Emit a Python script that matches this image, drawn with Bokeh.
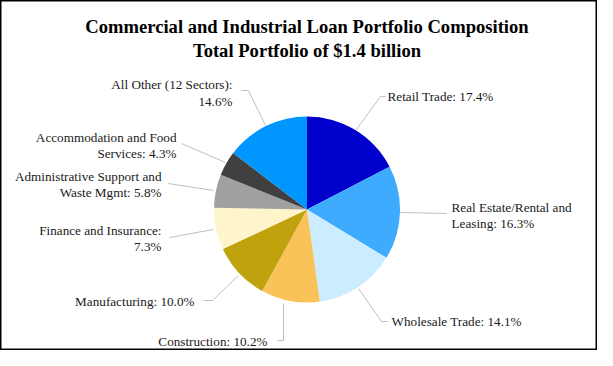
import math
from bokeh.plotting import figure
from bokeh.models import Range1d, ColumnDataSource
from bokeh.core.properties import value
from bokeh.embed import file_html
from bokeh.resources import INLINE

# ---- data ----
sectors = ["Retail Trade", "Real Estate/Rental and Leasing", "Wholesale Trade",
           "Construction", "Manufacturing", "Finance and Insurance",
           "Administrative Support and Waste Mgmt", "Accommodation and Food Services",
           "All Other (12 Sectors)"]
shares = [17.4, 16.3, 14.1, 10.2, 10.0, 7.3, 5.8, 4.3, 14.6]
colors = ["#0000CC", "#3FABFF", "#CCECFF", "#FAC35A", "#BFA20E",
          "#FFF5CC", "#A0A0A0", "#404040", "#0096FF"]
title_lines = ["Commercial and Industrial Loan Portfolio Composition",
               "Total Portfolio of $1.4 billion"]

W, H = 597, 350
# data coords: x = reference pixel x, y = 366 - reference pixel y
def Y(ry):
    return 366 - ry

p = figure(width=W, height=H, output_backend="svg", toolbar_location=None,
           x_range=Range1d(0, W), y_range=Range1d(366 - H, 366),
           x_axis_type=None, y_axis_type=None, min_border=0)
p.grid.visible = False
p.outline_line_color = "black"
p.outline_line_width = 2
p.background_fill_color = "white"
p.border_fill_color = "white"

cx, cy, r = 306.5, Y(209), 93
total = sum(shares)
starts, ends = [], []
cum = 0.0
for s in shares:
    a0 = math.pi / 2 - 2 * math.pi * (cum + s) / total
    a1 = math.pi / 2 - 2 * math.pi * cum / total
    starts.append(a0)
    ends.append(a1)
    cum += s
src = ColumnDataSource(dict(start=starts, end=ends, color=colors))
p.wedge(x=cx, y=cy, radius=r, start_angle="start", end_angle="end",
        fill_color="color", line_color=None, source=src)

# title
p.text(x=[306.5, 306.5], y=[Y(26), Y(50)], text=title_lines,
       text_font=value("Liberation Serif"), text_font_style="bold",
       text_font_size="18.6px", text_align="center", text_baseline="middle",
       text_color="black")

# leader lines
lead_xs = [[356, 380, 385], [400, 446], [358, 381, 387], [283, 283, 277],
           [238, 212, 203], [213, 169], [213, 168], [225, 181], [265, 248, 241]]
lead_ys = [[129, 96, 96], [212, 213], [288, 321, 321], [303, 340, 340],
           [275, 300, 300], [229, 237], [190, 183], [162, 143], [125, 90, 90]]
p.multi_line(xs=lead_xs, ys=[[Y(v) for v in ys] for ys in lead_ys],
             line_color="#BFBFBF", line_width=1)

lab = dict(text_font=value("Liberation Serif"), text_font_size="13.2px",
           text_baseline="middle", text_color="#1A1A1A")

def pct(i):
    return f"{shares[i]:.1f}%"

left_texts = [f"Retail Trade: {pct(0)}", "Real Estate/Rental and", f"Leasing: {pct(1)}",
              f"Wholesale Trade: {pct(2)}"]
left_x = [387, 451, 451, 391]
left_y = [96, 207, 223, 321]
p.text(x=left_x, y=[Y(v) for v in left_y], text=left_texts, text_align="left", **lab)

right_texts = [f"Construction: {pct(3)}", f"Manufacturing: {pct(4)}",
               "Finance and Insurance:", pct(5),
               "Administrative Support and", f"Waste Mgmt: {pct(6)}",
               "Accommodation and Food", f"Services: {pct(7)}",
               "All Other (12 Sectors):", pct(8)]
right_x = [267, 194, 161, 161, 161, 161, 176, 176, 232, 232]
right_y = [341, 301, 230, 246, 176, 192, 137, 153, 84, 101]
p.text(x=right_x, y=[Y(v) for v in right_y], text=right_texts, text_align="right", **lab)

open("out.html", "w").write(file_html(p, INLINE))
